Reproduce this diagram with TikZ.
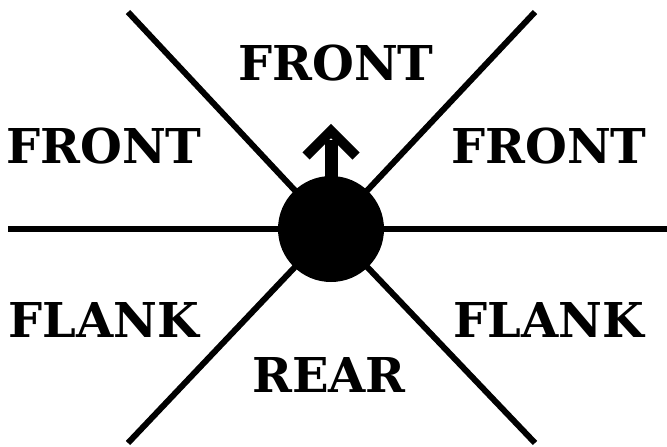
\documentclass[tikz,border=0pt]{standalone}
\usepackage{fontspec}
\setmainfont{DejaVu Serif}
\begin{document}
\begin{tikzpicture}[x=1pt, y=-1pt,
    every node/.style={font=\bfseries\fontsize{48}{50}\selectfont, anchor=base, inner sep=0pt},
    sector/.style={line width=6pt},
    heading/.style={line width=10pt, miter limit=10}]
  \useasboundingbox (0,0) rectangle (667,447);

  % Dividing lines
  \coordinate (hubc) at (331,229);
  \coordinate (west) at (8,229);
  \coordinate (east) at (667,229);
  \coordinate (nw) at (128,12);
  \coordinate (ne) at (535,12);
  \coordinate (sw) at (128,443);
  \coordinate (se) at (535,443);
  \draw[sector] (west) -- (east);
  \draw[sector] (nw) -- (hubc) -- (se);
  \draw[sector] (ne) -- (hubc) -- (sw);

  % Unit with heading arrow
  \fill (hubc) circle (53);
  \coordinate (tip) at (331,131);
  \draw[line width=13pt] (hubc) -- (331,140);
  \draw[heading] (306,156) -- (tip) -- (356,156);

  % Zone labels
  \node (fronttop) at (336,80) {FRONT};
  \node (frontleft) at (104,163) {FRONT};
  \node (frontright) at (549,163) {FRONT};
  \node (flankleft) at (104,337) {FLANK};
  \node (flankright) at (549,337) {FLANK};
  \node (rear) at (329,392) {REAR};
\end{tikzpicture}
\end{document}
